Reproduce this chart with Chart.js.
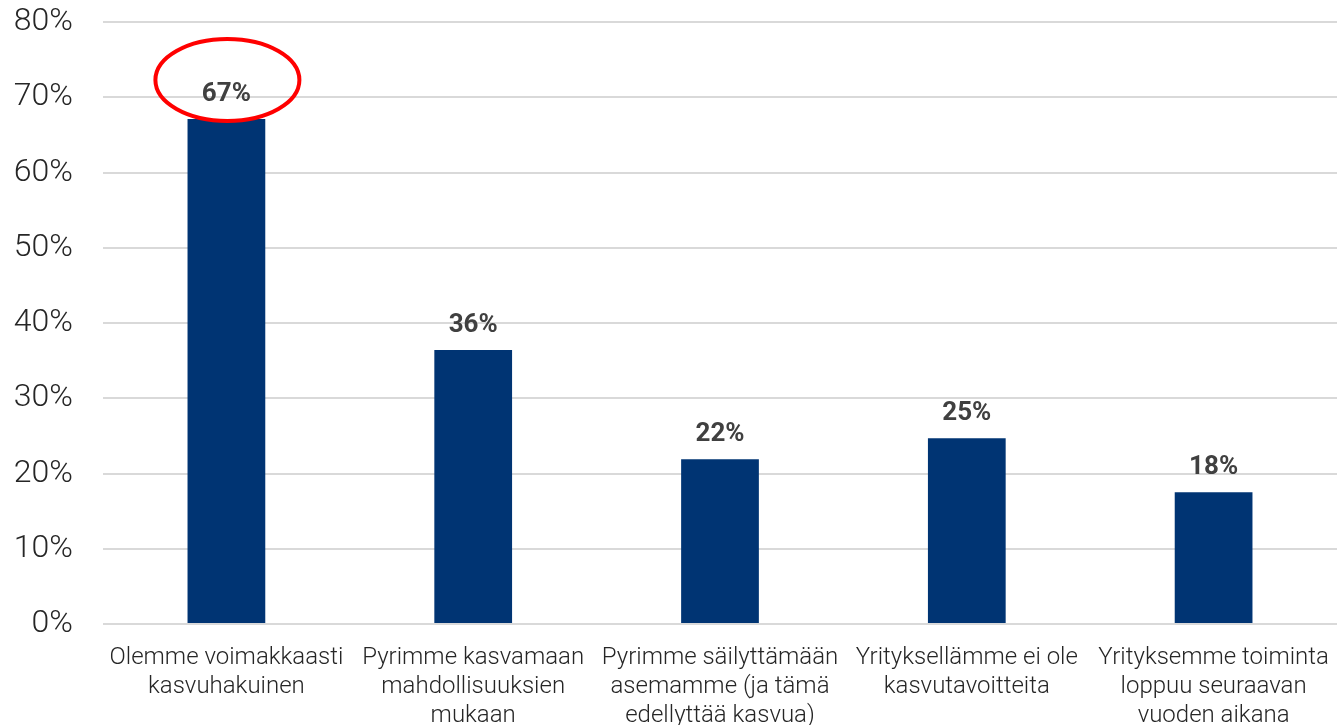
<!DOCTYPE html>
<html>
<head>
<meta charset="utf-8">
<script src="https://cdn.jsdelivr.net/npm/chart.js@4/dist/chart.umd.min.js"></script>
<style>
    html, body { margin: 0; padding: 0; background: #fff; }
    #wrap { width: 1337px; height: 725px; position: relative; }
</style>
</head>
<body>
<div id="wrap"><canvas id="growthChart"></canvas></div>
<script>
const categories = [
    ['Olemme voimakkaasti', 'kasvuhakuinen'],
    ['Pyrimme kasvamaan', 'mahdollisuuksien', 'mukaan'],
    ['Pyrimme säilyttämään', 'asemamme (ja tämä', 'edellyttää kasvua)'],
    ['Yrityksellämme ei ole', 'kasvutavoitteita'],
    ['Yrityksemme toiminta', 'loppuu seuraavan', 'vuoden aikana']
];
const shares = [67.1, 36.4, 21.9, 24.7, 17.5];
const highlighted = [0];

document.addEventListener('DOMContentLoaded', () => {
    // value labels above bars + red ring around the highlighted one
    const valueLabels = {
        id: 'valueLabels',
        afterDatasetsDraw(chart) {
            const ctx = chart.ctx;
            const bars = chart.getDatasetMeta(0).data;
            ctx.save();
            ctx.font = 'bold 26px Roboto';
            ctx.fillStyle = '#404040';
            ctx.textAlign = 'center';
            ctx.textBaseline = 'alphabetic';
            bars.forEach((bar, i) => {
                ctx.fillText(Math.round(shares[i]) + '%', bar.x, bar.y - 18);
            });
            highlighted.forEach(i => {
                const bar = bars[i];
                ctx.beginPath();
                ctx.ellipse(bar.x + 1, bar.y - 39, 72, 41, 0, 0, Math.PI * 2);
                ctx.strokeStyle = '#ff0000';
                ctx.lineWidth = 4;
                ctx.stroke();
            });
            ctx.restore();
        }
    };

    const ctx = document.getElementById('growthChart').getContext('2d');
    new Chart(ctx, {
        type: 'bar',
        data: {
            labels: categories,
            datasets: [{
                data: shares,
                backgroundColor: '#003473',
                categoryPercentage: 1,
                barPercentage: 0.315
            }]
        },
        options: {
            responsive: true,
            maintainAspectRatio: false,
            animation: false,
            layout: { padding: { top: 0, left: 0, bottom: 0, right: -6 } },
            plugins: {
                legend: { display: false },
                tooltip: { enabled: false }
            },
            scales: {
                x: {
                    grid: { display: false },
                    border: { display: false },
                    afterFit: (scale) => {
                        scale.height = 101;
                        scale.paddingLeft = 0;
                        scale.paddingRight = 0;
                    },
                    ticks: {
                        maxRotation: 0,
                        autoSkip: false,
                        padding: 12,
                        color: '#262626',
                        font: { family: 'Roboto', size: 24, weight: 300, lineHeight: 1.2 }
                    }
                },
                y: {
                    min: 0,
                    max: 80,
                    afterFit: (scale) => {
                        scale.width = 103;
                        scale.paddingTop = 22;
                        scale.paddingBottom = 0;
                    },
                    grid: { color: '#d9d9d9', lineWidth: 2, drawTicks: false },
                    border: { display: false },
                    ticks: {
                        stepSize: 10,
                        padding: 30,
                        color: '#262626',
                        font: { family: 'Roboto', size: 32, weight: 300 },
                        callback: (v) => v + '%'
                    }
                }
            }
        },
        plugins: [valueLabels]
    });
});
</script>
</body>
</html>
